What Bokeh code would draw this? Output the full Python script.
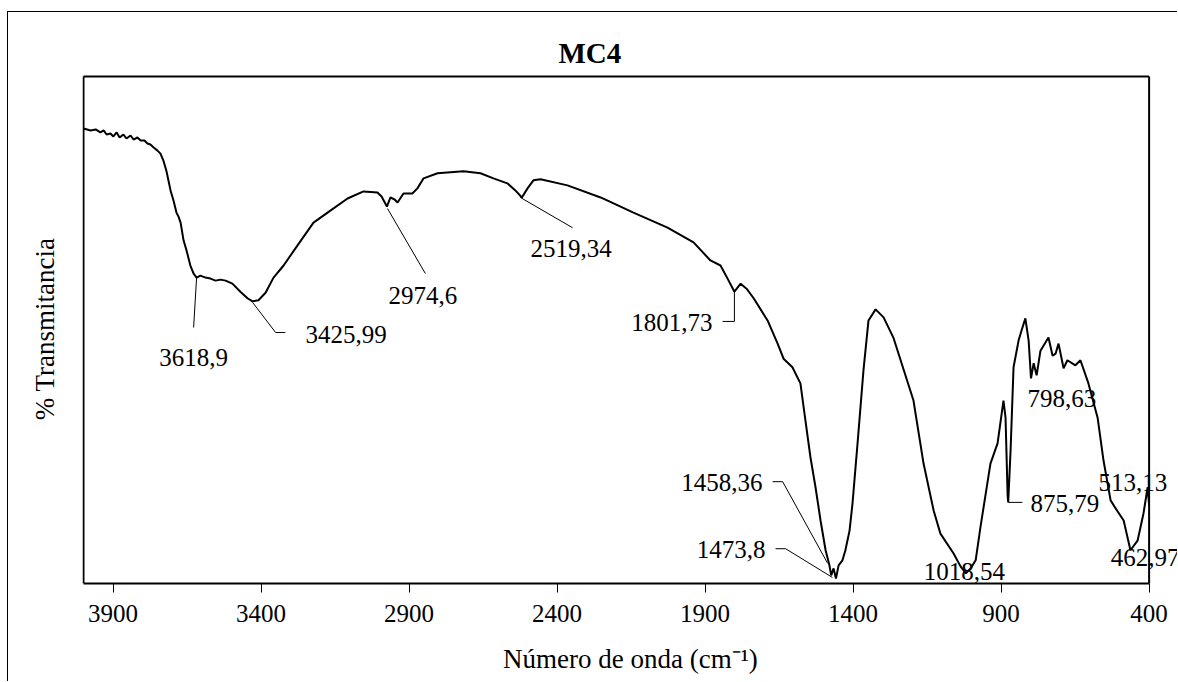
from bokeh.plotting import figure
from bokeh.models import Range1d, Label, FixedTicker
from bokeh.embed import file_html
from bokeh.resources import INLINE

# ---------------- data ----------------
wavenumber = [
    4000, 3976, 3959, 3943, 3932, 3922, 3909, 3899, 3888, 3878,
    3865, 3855, 3841, 3831, 3818, 3807, 3794, 3784, 3774, 3763,
    3750, 3740, 3730, 3720, 3706, 3696, 3686, 3679, 3672, 3662,
    3652, 3645, 3639, 3628, 3618, 3605, 3588, 3571, 3554, 3537,
    3520, 3497, 3470, 3446, 3429, 3409, 3385, 3358, 3324, 3277,
    3223, 3166, 3108, 3054, 3007, 2993, 2975, 2963, 2949, 2939,
    2919, 2889, 2872, 2851, 2804, 2716, 2659, 2615, 2568, 2541,
    2519, 2500, 2480, 2456, 2365, 2253, 2142, 2027, 1939, 1882,
    1848, 1824, 1801, 1780, 1760, 1736, 1689, 1655, 1635, 1605,
    1578, 1561, 1544, 1527, 1510, 1493, 1480, 1474, 1466, 1458,
    1449, 1436, 1426, 1412, 1402, 1385, 1365, 1348, 1324, 1297,
    1264, 1196, 1162, 1128, 1105, 1061, 1037, 1019, 1003, 986,
    970, 936, 912, 892, 885, 878, 876, 868, 858, 841,
    831, 818, 807, 799, 790, 780, 767, 740, 726, 716,
    706, 689, 676, 649, 632, 605, 574, 554, 530, 513,
    486, 463, 439, 419, 405, 400,
]
transmittance = [
    89.7, 89.3, 89.5, 88.9, 89.3, 88.5, 88.7, 88.1, 88.9, 87.9,
    88.5, 87.7, 88.3, 87.5, 87.9, 87.3, 87.3, 86.7, 86.5, 85.9,
    85.3, 84.7, 83.3, 81.3, 77.4, 75.4, 73.0, 72.2, 71.0, 67.5,
    65.5, 63.9, 62.5, 60.9, 60.1, 60.5, 60.1, 59.9, 59.5, 59.7,
    59.5, 58.9, 57.3, 56.0, 55.4, 55.6, 57.1, 60.1, 62.5, 66.5,
    71.0, 73.4, 75.8, 77.2, 77.0, 76.2, 74.2, 76.0, 75.6, 75.0,
    76.8, 76.8, 77.8, 79.8, 80.8, 81.2, 80.8, 79.8, 78.8, 77.4,
    76.0, 77.8, 79.4, 79.6, 78.4, 76.0, 73.0, 70.0, 67.1, 63.5,
    62.5, 59.9, 57.3, 58.9, 57.9, 56.0, 51.6, 47.0, 44.0, 42.3,
    39.1, 31.7, 24.4, 18.5, 11.9, 6.0, 3.0, 1.0, 2.4, 0.4,
    3.0, 4.0, 6.0, 9.9, 15.3, 27.2, 41.7, 51.6, 53.8, 52.2,
    48.2, 35.7, 23.2, 13.9, 9.3, 5.4, 2.8, 1.4, 2.4, 4.0,
    10.5, 23.2, 27.2, 35.7, 32.3, 16.9, 15.5, 25.8, 42.3, 47.6,
    49.6, 52.0, 47.6, 40.1, 43.1, 40.7, 45.6, 48.2, 44.6, 45.0,
    47.0, 42.1, 43.7, 42.7, 43.7, 39.1, 32.3, 23.8, 15.9, 14.3,
    11.9, 6.0, 7.9, 13.3, 18.5, 14.9,
]
x_ticks = [3900, 3400, 2900, 2400, 1900, 1400, 900, 400]

title_text = "MC4"
x_title = "Número de onda (cm⁻¹)"
y_title = "% Transmitancia"

# peak annotations: text, label x, label y, alignment
peak_text = ["3618,9", "3425,99", "2974,6", "2519,34", "1801,73", "1458,36",
             "1473,8", "1018,54", "875,79", "798,63", "513,13", "462,97"]
peak_lx = [3628, 3250, 2970, 2490, 1875, 1706, 1696, 1024, 801, 811, 571, 530]
peak_ly = [44.2, 48.8, 56.5, 65.9, 51.2, 19.4, 6.2, 1.8, 15.3, 36.1, 19.4, 4.6]
peak_align = ["center", "left", "left", "left", "right", "right", "right",
              "center", "left", "left", "left", "left"]
# leader lines
leader_xs = [[3618, 3628], [3429, 3351, 3318], [2973, 2845], [2524, 2348],
             [1801, 1801, 1841], [1672, 1638, 1486], [1662, 1628, 1470],
             [876, 828]]
leader_ys = [[60.1, 50.2], [55.2, 49.2, 49.2], [73.8, 60.9], [76.0, 70.0],
             [57.3, 51.4, 51.4], [19.6, 19.6, 3.4], [6.3, 6.3, 0.6],
             [15.5, 15.5]]

X_MIN, X_MAX = 400, 4000
Y_MIN, Y_MAX = -0.6, 100

FONT = "Liberation Serif"

p = figure(width=1170, height=670, x_range=Range1d(4003.4, 300.7),
           y_range=Range1d(-0.6, 100.4), output_backend="svg",
           toolbar_location=None, min_border_left=74, min_border_right=0,
           min_border_top=62, min_border_bottom=99)
# outer chart-area border (left and top edges visible in the window)
p.styles = {"margin-left": "7px", "margin-top": "11px",
            "border-left": "1px solid black", "border-top": "1px solid black"}
p.grid.visible = False
p.outline_line_color = None
p.background_fill_color = "white"
p.border_fill_color = "white"

p.title.text = title_text
p.title.text_font = FONT
p.title.text_font_size = "29px"
p.title.text_font_style = "bold"
p.title.text_color = "black"
p.title.align = "left"
p.title.offset = 476
p.title.vertical_align = "middle"

xa = p.xaxis[0]
xa.ticker = FixedTicker(ticks=x_ticks)
xa.bounds = (X_MIN, X_MAX)
xa.major_label_text_font = FONT
xa.major_label_text_font_size = "25px"
xa.major_label_text_color = "black"
xa.major_tick_out = 9
xa.major_tick_in = 0
xa.major_tick_line_color = "black"
xa.minor_tick_line_color = None
xa.axis_line_color = "black"
xa.axis_line_width = 2
xa.major_label_standoff = 12
xa.axis_label = x_title
xa.axis_label_text_font = FONT
xa.axis_label_text_font_size = "27px"
xa.axis_label_text_font_style = "normal"
xa.axis_label_text_color = "black"
xa.axis_label_standoff = 19

ya = p.yaxis[0]
ya.ticker = FixedTicker(ticks=[])
ya.minor_tick_line_color = None
ya.axis_line_color = None
ya.axis_label = y_title
ya.axis_label_text_font = FONT
ya.axis_label_text_font_size = "27px"
ya.axis_label_text_font_style = "normal"
ya.axis_label_text_color = "black"
ya.axis_label_standoff = 23

# plot-area frame: left, top and right edges (bottom is the x axis)
p.segment(x0=[X_MAX, X_MAX, X_MIN], y0=[Y_MIN, Y_MAX, Y_MAX],
          x1=[X_MAX, X_MIN, X_MIN], y1=[Y_MAX, Y_MAX, Y_MIN],
          line_color="black", line_width=2)

p.line(wavenumber, transmittance, line_color="black", line_width=2)
p.multi_line(leader_xs, leader_ys, line_color="black", line_width=1)

for t, lx, ly, al in zip(peak_text, peak_lx, peak_ly, peak_align):
    p.add_layout(Label(x=lx, y=ly, text=t, text_align=al, text_baseline="middle",
                       text_font=FONT, text_font_size="25px", text_color="black"))

open("out.html", "w").write(file_html(p, INLINE))
